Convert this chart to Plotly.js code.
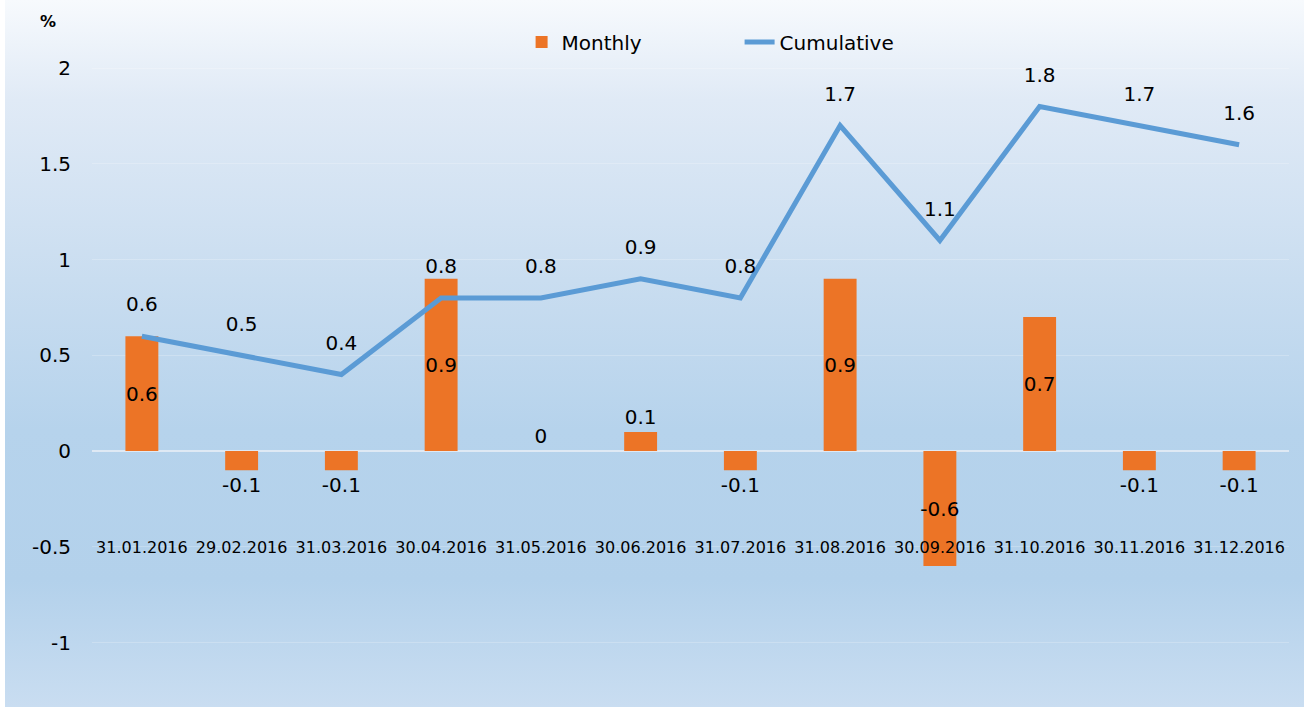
<!DOCTYPE html>
<html>
<head>
<meta charset="utf-8">
<script src="https://cdn.plot.ly/plotly-3.0.1.min.js"></script>
<style>
  html, body { margin: 0; padding: 0; background: #ffffff; }
  #bg { position: absolute; left: 5px; top: 0; width: 1299px; height: 707px;
        background: linear-gradient(to bottom, #f7fafd 0px, #e0eaf6 100px, #c9ddf0 280px, #b6d3ec 430px, #b3d1eb 580px, #c9ddf1 707px); }
  #chart { position: absolute; left: 0; top: 0; width: 1304px; height: 707px; }
</style>
</head>
<body>
<div id="bg"></div>
<div id="chart"></div>
<script>
const categories = ["31.01.2016","29.02.2016","31.03.2016","30.04.2016","31.05.2016","30.06.2016","31.07.2016","31.08.2016","30.09.2016","31.10.2016","30.11.2016","31.12.2016"];
const monthly = [0.6, -0.1, -0.1, 0.9, 0, 0.1, -0.1, 0.9, -0.6, 0.7, -0.1, -0.1];
const cumulative = [0.6, 0.5, 0.4, 0.8, 0.8, 0.9, 0.8, 1.7, 1.1, 1.8, 1.7, 1.6];
const yTicks = [-1, -0.5, 0, 0.5, 1, 1.5, 2];

const FONT = "DejaVu Sans, Verdana, sans-serif";
const barTextPos = monthly.map(v => Math.abs(v) >= 0.3 ? "inside" : "outside");

const traces = [
  {
    type: "bar", name: "Monthly", x: categories, y: monthly,
    width: 0.33,
    marker: { color: "#ec7426", line: { width: 0 } },
    text: monthly.map(String), textposition: barTextPos, textangle: 0,
    insidetextanchor: "middle", constraintext: "none", cliponaxis: false,
    textfont: { family: FONT, size: 20, color: "#000000" },
    insidetextfont: { family: FONT, size: 20, color: "#000000" },
    outsidetextfont: { family: FONT, size: 20, color: "#000000" },
    hoverinfo: "x+y"
  },
  {
    type: "scatter", mode: "lines+markers+text", name: "Cumulative", x: categories, y: cumulative,
    line: { color: "#5b9bd5", width: 5 },
    marker: { size: 30, color: "rgba(0,0,0,0)" },
    text: cumulative.map(String), textposition: "top center",
    textfont: { family: FONT, size: 20, color: "#000000" },
    cliponaxis: false
  }
];

const layout = {
  width: 1304, height: 707,
  margin: { l: 92, r: 15, t: 49, b: 7, autoexpand: false },
  paper_bgcolor: "rgba(0,0,0,0)", plot_bgcolor: "rgba(0,0,0,0)",
  font: { family: FONT, color: "#000000" },
  showlegend: true,
  legend: {
    orientation: "h", xref: "container", yref: "container",
    x: 0.4, xanchor: "left", y: 0.968, yanchor: "top",
    font: { family: FONT, size: 20, color: "#000000" },
    entrywidth: 173, entrywidthmode: "pixels",
    bgcolor: "rgba(0,0,0,0)", traceorder: "normal"
  },
  bargap: 0.67,
  xaxis: {
    type: "category", range: [-0.5, 11.5], autorange: false,
    anchor: "free", position: 0.252,
    showline: false, showgrid: false, zeroline: false, ticks: "",
    tickfont: { family: FONT, size: 16, color: "#000000" },
    tickangle: 0, automargin: false
  },
  yaxis: {
    range: [-1.3, 2.1], tickvals: yTicks, ticktext: yTicks.map(String),
    showgrid: true, gridcolor: "rgba(255,255,255,0.22)", gridwidth: 1,
    zeroline: true, zerolinecolor: "#dfe9f4", zerolinewidth: 2,
    showline: false, ticks: "", ticklabelstandoff: 20,
    tickfont: { family: FONT, size: 20, color: "#000000" },
    automargin: false
  },
  annotations: [
    { text: "<b>%</b>", xref: "paper", yref: "paper", x: -0.037, y: 1.043,
      xanchor: "center", yanchor: "middle", showarrow: false,
      font: { family: FONT, size: 16, color: "#000000" } }
  ]
};

Plotly.newPlot("chart", traces, layout, { displayModeBar: false, staticPlot: true });
</script>
</body>
</html>
